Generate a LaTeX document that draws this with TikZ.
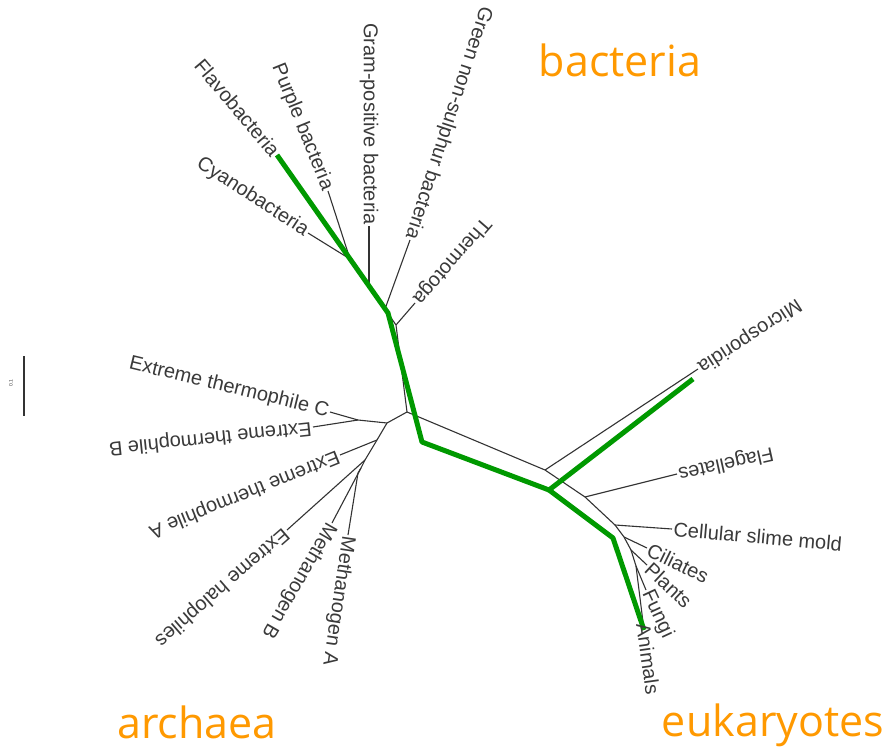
\documentclass[tikz,border=0pt]{standalone}
\usepackage{fontspec}
\setmainfont{Liberation Sans}
\newfontfamily\regionfont{Open Sans}
\definecolor{treeline}{HTML}{333333}
\definecolor{labgray}{HTML}{3A3A3A}
\definecolor{pathgreen}{HTML}{009900}
\definecolor{regionorange}{HTML}{FF9900}
\begin{document}
\begin{tikzpicture}[x=1pt,y=-1pt,
  branch/.style={draw=treeline, line width=1.1pt},
  lab/.style={text=labgray, font=\fontsize{20}{20}\selectfont, inner sep=1.5pt},
  hilite/.style={draw=pathgreen, line width=5pt, line join=round},
  region/.style={text=regionorange, font=\regionfont\fontsize{43}{43}\selectfont, inner sep=0pt, text depth=0pt}]
\useasboundingbox[fill=white] (0,0) rectangle (887,749);
% internal nodes
\coordinate (c0) at (407,412);
\coordinate (bc) at (396,325);
\coordinate (b1) at (385,309);
\coordinate (b2) at (369,286);
\coordinate (b3) at (350,259);
\coordinate (a1) at (387,423);
\coordinate (acb) at (358,420);
\coordinate (a3) at (377,440);
\coordinate (a4) at (365,460);
\coordinate (a5) at (361,468);
\coordinate (a6) at (358,473);
\coordinate (e1) at (545,470);
\coordinate (e2) at (585,497);
\coordinate (e3) at (615,525);
\coordinate (e4) at (624,537);
\coordinate (e5) at (631,550);
\coordinate (e6) at (636,566);
% tips
\coordinate (tFlavo) at (277,155);
\coordinate (tPurple) at (328,191);
\coordinate (tGram) at (369,226);
\coordinate (tGreen) at (410,240);
\coordinate (tThermo) at (415,303);
\coordinate (tCyano) at (308,233);
\coordinate (tC) at (330,412);
\coordinate (tB) at (313,427);
\coordinate (tA) at (340,455);
\coordinate (tHalo) at (287,530);
\coordinate (tMB) at (332,523);
\coordinate (tMA) at (348,535);
\coordinate (tMicro) at (698,369);
\coordinate (tFlag) at (677,474);
\coordinate (tSlime) at (672,529);
\coordinate (tCil) at (647,548);
\coordinate (tPlants) at (647,565);
\coordinate (tFungi) at (646,590);
\coordinate (tAnimals) at (643,622);
% black tree
\draw[branch] (c0) -- (bc) -- (b1) -- (b2) -- (b3) -- (tFlavo);
\draw[branch] (bc) -- (tThermo);
\draw[branch] (b1) -- (tGreen);
\draw[branch] (b2) -- (tGram);
\draw[branch] (b3) -- (tCyano);
\draw[branch] (b3) -- (tPurple);
\draw[branch] (c0) -- (a1) -- (acb) -- (tC);
\draw[branch] (acb) -- (tB);
\draw[branch] (a1) -- (a3) -- (a4) -- (a5) -- (a6) -- (tMA);
\draw[branch] (a3) -- (tA);
\draw[branch] (a4) -- (tHalo);
\draw[branch] (a5) -- (tMB);
\draw[branch] (c0) -- (e1) -- (e2) -- (e3) -- (e4) -- (e5) -- (e6) -- (tAnimals);
\draw[branch] (e1) -- (tMicro);
\draw[branch] (e2) -- (tFlag);
\draw[branch] (e3) -- (tSlime);
\draw[branch] (e4) -- (tCil);
\draw[branch] (e5) -- (tPlants);
\draw[branch] (e6) -- (tFungi);
% green path
\coordinate (g1) at (277,155);
\coordinate (g2) at (388,313);
\coordinate (g3) at (422,442);
\coordinate (g4) at (549,490);
\coordinate (g5) at (693,379);
\coordinate (g6) at (613,538);
\coordinate (g7) at (644,630);
\draw[hilite] (g1) -- (g2) -- (g3) -- (g4) -- (g5);
\draw[hilite] (g4) -- (g6) -- (g7);
% labels
\node[lab, rotate=-50, anchor=east] (lFlavo) at (tFlavo) {Flavobacteria};
\node[lab, rotate=-68, anchor=east] (lPurple) at (tPurple) {Purple bacteria};
\node[lab, rotate=-90, anchor=east] (lGram) at (tGram) {Gram-positive bacteria};
\node[lab, rotate=-108, anchor=east] (lGreen) at (tGreen) {Green non-sulphur bacteria};
\node[lab, rotate=-131, anchor=east] (lThermo) at (tThermo) {Thermotoga};
\node[lab, rotate=-33, anchor=east] (lCyano) at (tCyano) {Cyanobacteria};
\node[lab, rotate=-13.6, anchor=east] (lC) at (tC) {Extreme thermophile C};
\node[lab, rotate=186, anchor=west] (lB) at (tB) {Extreme thermophile B};
\node[lab, rotate=202, anchor=west] (lA) at (tA) {Extreme thermophile A};
\node[lab, rotate=221, anchor=west] (lHalo) at (tHalo) {Extreme halophiles};
\node[lab, rotate=240, anchor=west] (lMB) at (tMB) {Methanogen B};
\node[lab, rotate=261.5, anchor=west] (lMA) at (tMA) {Methanogen A};
\node[lab, rotate=213, anchor=east] (lMicro) at (tMicro) {Microsporidia};
\node[lab, rotate=192.5, anchor=east] (lFlag) at (tFlag) {Flagellates};
\node[lab, rotate=-5, anchor=west] (lSlime) at (tSlime) {Cellular slime mold};
\node[lab, rotate=-26, anchor=west] (lCil) at (tCil) {Ciliates};
\node[lab, rotate=-43, anchor=west] (lPlants) at (tPlants) {Plants};
\node[lab, rotate=-65, anchor=west] (lFungi) at (tFungi) {Fungi};
\node[lab, rotate=-82, anchor=west] (lAnimals) at (tAnimals) {Animals};
% scale bar
\coordinate (s1) at (24,356);
\coordinate (s2) at (24,416);
\draw[draw=treeline, line width=1.2pt] (s1) -- (s2);
\node[text=labgray, font=\fontsize{5}{5}\selectfont, rotate=90, inner sep=0pt] (sLab) at (11,383) {0.1};
% region labels
\node[region, anchor=base] (rBact) at (620,77) {bacteria};
\node[region, anchor=base] (rArch) at (197,738) {archaea};
\node[region, anchor=base] (rEuk) at (773,736) {eukaryotes};
\end{tikzpicture}
\end{document}
